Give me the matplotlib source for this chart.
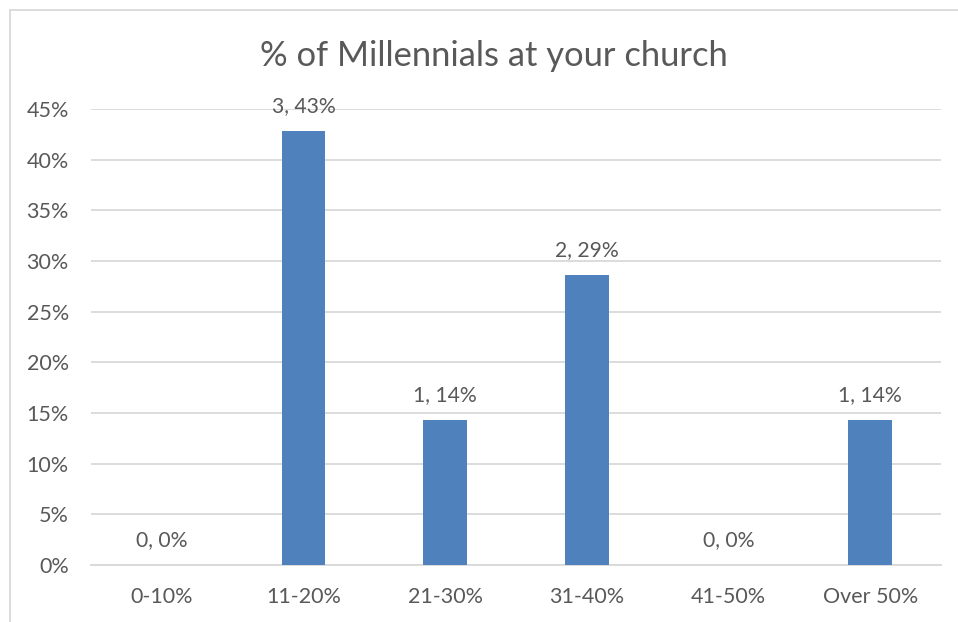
import matplotlib.pyplot as plt
from matplotlib.patches import Rectangle
from matplotlib.ticker import FuncFormatter

# Survey answers: how many respondents picked each range
categories = ["0-10%", "11-20%", "21-30%", "31-40%", "41-50%", "Over 50%"]
counts = [0, 3, 1, 2, 0, 1]
total = sum(counts)
shares = [c / total for c in counts]

TEXT = "#595959"
GRID = "#D9D9D9"
BAR = "#4F81BD"
plt.rcParams["font.family"] = ["Lato", "DejaVu Sans"]

fig = plt.figure(figsize=(9.58, 6.22), dpi=100)
ax = fig.add_axes([91 / 958, 1 - 565 / 622, 850 / 958, 456 / 622])

# chart frame, cut by the right and bottom edges of the image
fig.patches.append(Rectangle((10 / 958, -0.2), 1.2, 1.2 - 10 / 622,
                             transform=fig.transFigure, fill=False,
                             edgecolor=GRID, linewidth=1.3))

x = range(len(categories))
ax.bar(x, shares, width=0.31, color=BAR, zorder=3)
for i, (c, s) in enumerate(zip(counts, shares)):
    ax.annotate("%d, %.0f%%" % (c, s * 100), (i, s), xytext=(0, 18),
                textcoords="offset points", ha="center", va="center",
                fontsize=15.2, color=TEXT)

ax.set_xlim(-0.5, len(categories) - 0.5)
ax.set_ylim(0, 0.45)
ax.set_yticks([i * 0.05 for i in range(10)])
ax.yaxis.set_major_formatter(FuncFormatter(lambda v, p: "%d%%" % round(v * 100)))
ax.set_xticks(list(x))
ax.set_xticklabels(categories)
ax.tick_params(length=0, labelsize=15.5, labelcolor=TEXT)
ax.tick_params(axis="x", pad=16)
ax.tick_params(axis="y", pad=16)
ax.grid(axis="y", color=GRID, linewidth=1.3, zorder=0)
for side in ["top", "right", "left"]:
    ax.spines[side].set_visible(False)
ax.spines["bottom"].set_color(GRID)
ax.spines["bottom"].set_linewidth(1.3)

fig.text(494 / 958, 1 - 56 / 622, "% of Millennials at your church",
         ha="center", va="center", fontsize=24.8, color=TEXT)

plt.savefig("out.png", dpi=100)
